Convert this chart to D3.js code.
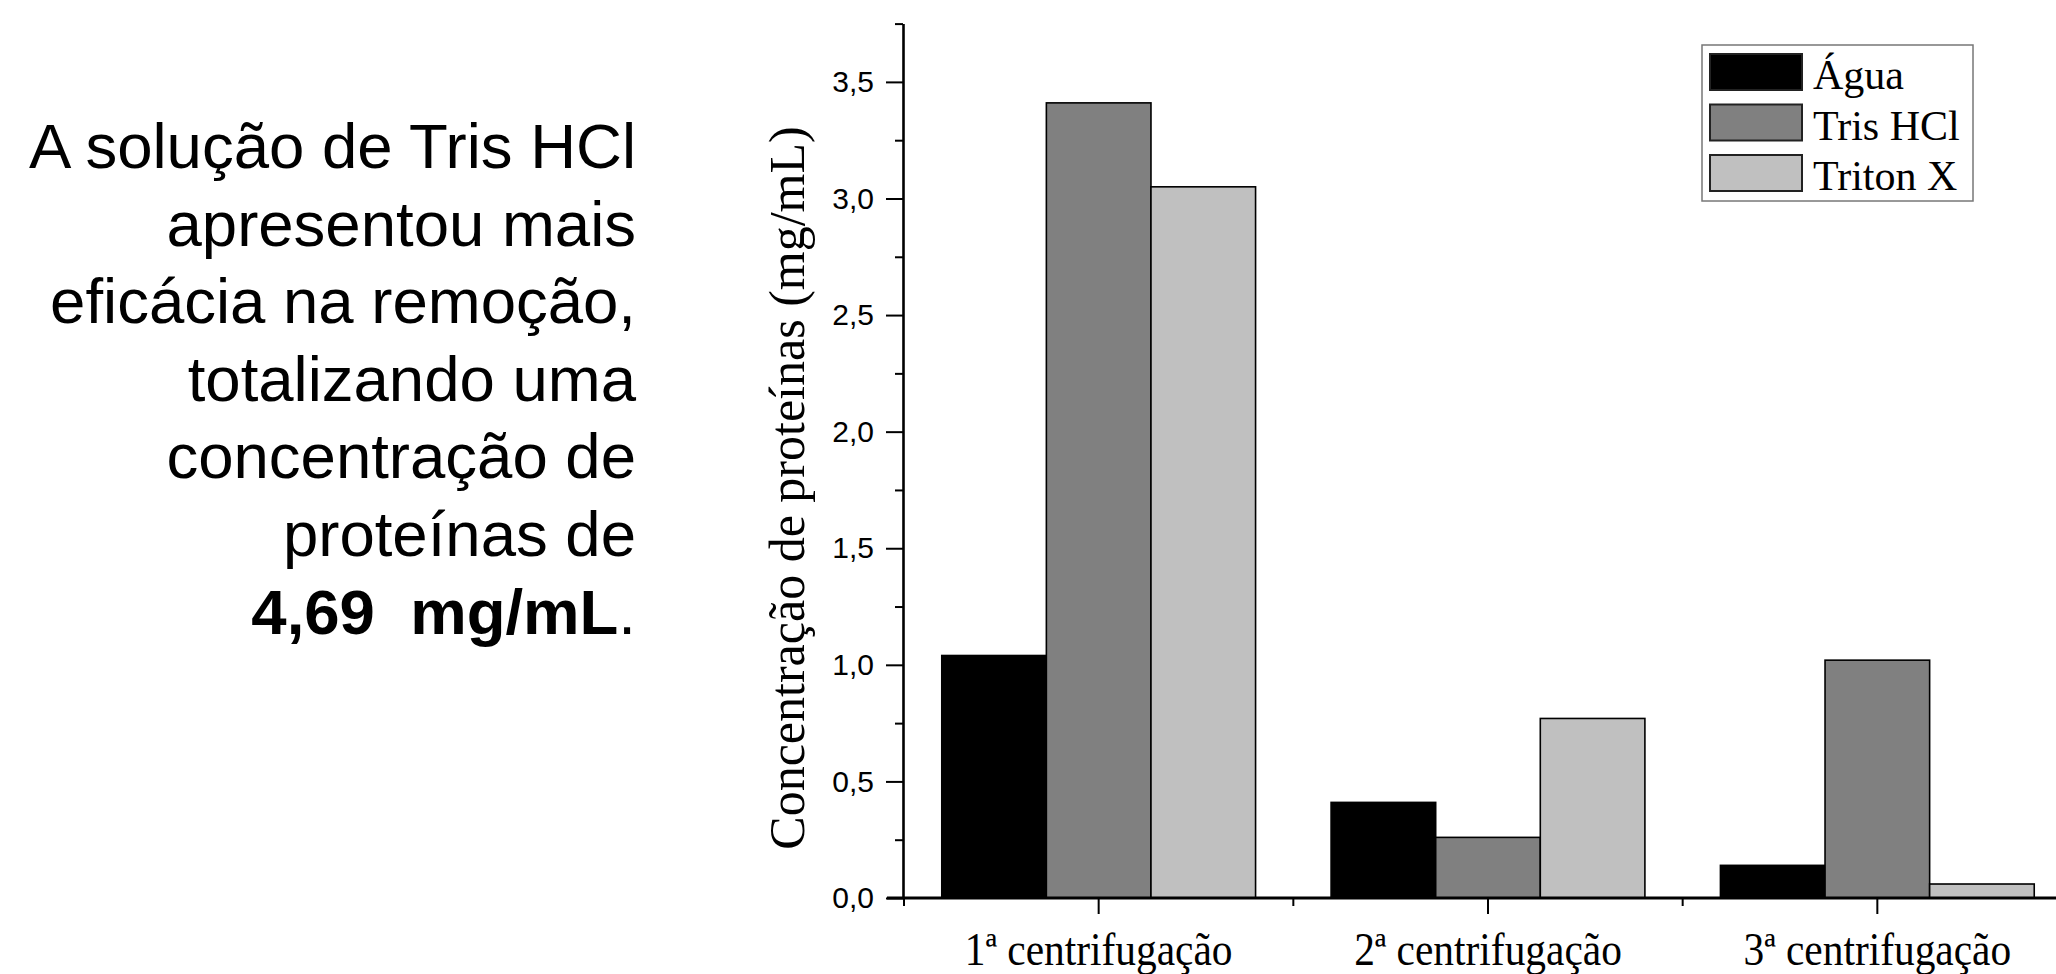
<!DOCTYPE html>
<html>
<head>
<meta charset="utf-8">
<script src="https://cdn.jsdelivr.net/npm/d3@7"></script>
<style>
  html, body { margin: 0; padding: 0; background: #fff; }
  svg { display: block; }
</style>
</head>
<body>
<svg id="chart" width="2056" height="974"></svg>
<script>
// ---------- data ----------
const categories = ["1ª centrifugação", "2ª centrifugação", "3ª centrifugação"];
const seriesNames = ["Água", "Tris HCl", "Triton X"];
const agua    = [1.04, 0.41, 0.14];
const trisHCl = [3.41, 0.26, 1.02];
const tritonX = [3.05, 0.77, 0.06];
const yMajorTicks = [0, 0.5, 1.0, 1.5, 2.0, 2.5, 3.0, 3.5];
const yMinorTicks = [0.25, 0.75, 1.25, 1.75, 2.25, 2.75, 3.25, 3.75];
const yLabel = "Concentração de proteínas (mg/mL)";
const textLines = [
  "A solução de Tris HCl",
  "apresentou mais",
  "eficácia na remoção,",
  "totalizando uma",
  "concentração de",
  "proteínas de"
];
const boldValue = "4,69  mg/mL";
const boldTail = ".";

// ---------- styles ----------
const colors = { "Água": "#000000", "Tris HCl": "#808080", "Triton X": "#c0c0c0" };
const serif = "'Liberation Serif', 'Times New Roman', Times, serif";
const sans = "'Liberation Sans', Arial, Helvetica, sans-serif";
const W = 2056;

const svg = d3.select("#chart");
svg.append("rect").attr("width", W).attr("height", 974).attr("fill", "#fff");

const seriesValues = { "Água": agua, "Tris HCl": trisHCl, "Triton X": tritonX };
const table = categories.map((c, i) => ({
  cat: c,
  values: seriesNames.map(s => ({ series: s, value: seriesValues[s][i] }))
}));

// ---------- scales ----------
const yAxisX = 903, yBottom = 898, yTop = 23.6;
const x0 = d3.scaleBand().domain(categories).range([904, 2072])
  .paddingInner(0.194).paddingOuter(0.097);
const x1 = d3.scaleBand().domain(seriesNames).range([0, x0.bandwidth()]);
const y = d3.scaleLinear().domain([0, 3.75]).range([yBottom, yTop]);

// ---------- bars ----------
const groups = svg.append("g").selectAll("g").data(table).join("g")
  .attr("transform", d => `translate(${x0(d.cat)},0)`);
groups.selectAll("rect").data(d => d.values).join("rect")
  .attr("x", d => x1(d.series))
  .attr("y", d => y(d.value))
  .attr("width", x1.bandwidth())
  .attr("height", d => y(0) - y(d.value))
  .attr("fill", d => colors[d.series])
  .attr("stroke", "#000")
  .attr("stroke-width", 1.6);

// ---------- x axis ----------
const xAxisG = svg.append("g").attr("transform", `translate(0,${yBottom})`)
  .call(d3.axisBottom(x0).tickSize(16).tickSizeOuter(0));
xAxisG.select(".domain").remove();
xAxisG.append("line")
  .attr("x1", yAxisX - 16).attr("x2", W)
  .attr("y1", 0).attr("y2", 0)
  .attr("stroke", "#000").attr("stroke-width", 2.8);
xAxisG.selectAll(".tick line").attr("stroke-width", 2).attr("stroke", "#000");
xAxisG.selectAll(".tick text")
  .attr("y", 67).attr("dy", 0)
  .attr("transform", "scale(0.9,1)")
  .attr("font-family", serif).attr("font-size", 46).attr("fill", "#000");

// minor ticks at category boundaries
const boundaries = d3.range(categories.length + 1).map(i => x0.range()[0] + i * x0.step());
svg.append("g").selectAll("line").data(boundaries).join("line")
  .attr("x1", d => d).attr("x2", d => d)
  .attr("y1", yBottom).attr("y2", yBottom + 8)
  .attr("stroke", "#000").attr("stroke-width", 2);

// ---------- y axis ----------
const fmt = d => d3.format(".1f")(d).replace(".", ",");
const yAxisG = svg.append("g").attr("transform", `translate(${yAxisX},0)`)
  .call(d3.axisLeft(y).tickValues(yMajorTicks).tickFormat(fmt)
    .tickSize(17).tickSizeOuter(0).tickPadding(12));
yAxisG.select(".domain").attr("stroke-width", 2.6).attr("stroke", "#000");
yAxisG.selectAll(".tick line").attr("stroke-width", 2).attr("stroke", "#000");
yAxisG.selectAll(".tick text").attr("font-family", sans).attr("font-size", 30)
  .attr("fill", "#000");

const yMinorG = svg.append("g").attr("transform", `translate(${yAxisX},0)`)
  .call(d3.axisLeft(y).tickValues(yMinorTicks).tickFormat("").tickSize(8).tickSizeOuter(0));
yMinorG.select(".domain").remove();
yMinorG.selectAll(".tick line").attr("stroke-width", 2).attr("stroke", "#000");

// ---------- y label ----------
svg.append("text")
  .attr("transform", "translate(804,488) rotate(-90)")
  .attr("text-anchor", "middle")
  .attr("font-family", serif).attr("font-size", 50).attr("fill", "#000")
  .text(yLabel);

// ---------- legend ----------
const lg = svg.append("g").attr("transform", "translate(1702,45)");
lg.append("rect").attr("width", 271).attr("height", 156)
  .attr("fill", "#fff").attr("stroke", "#777").attr("stroke-width", 1.5);
const rows = lg.selectAll("g.row").data(seriesNames).join("g")
  .attr("class", "row")
  .attr("transform", (d, i) => `translate(8,${9 + i * 50.5})`);
rows.append("rect").attr("width", 92).attr("height", 36)
  .attr("fill", d => colors[d]).attr("stroke", "#222").attr("stroke-width", 2);
rows.append("text").attr("x", 103).attr("y", 35)
  .attr("font-family", serif).attr("font-size", 42).attr("fill", "#000")
  .text(d => d);

// ---------- side text ----------
const side = svg.append("g");
side.selectAll("text.line").data(textLines).join("text")
  .attr("class", "line")
  .attr("x", 636).attr("y", (d, i) => 168 + i * 77.6)
  .attr("text-anchor", "end")
  .attr("font-family", sans).attr("font-size", 63.5).attr("fill", "#000")
  .text(d => d);
const last = side.append("text")
  .attr("x", 636).attr("y", 168 + 6 * 77.6)
  .attr("text-anchor", "end")
  .attr("font-family", sans).attr("font-size", 63.5).attr("fill", "#000")
  .attr("xml:space", "preserve").style("white-space", "pre");
last.append("tspan").attr("font-weight", "bold").text(boldValue);
last.append("tspan").text(boldTail);
</script>
</body>
</html>
